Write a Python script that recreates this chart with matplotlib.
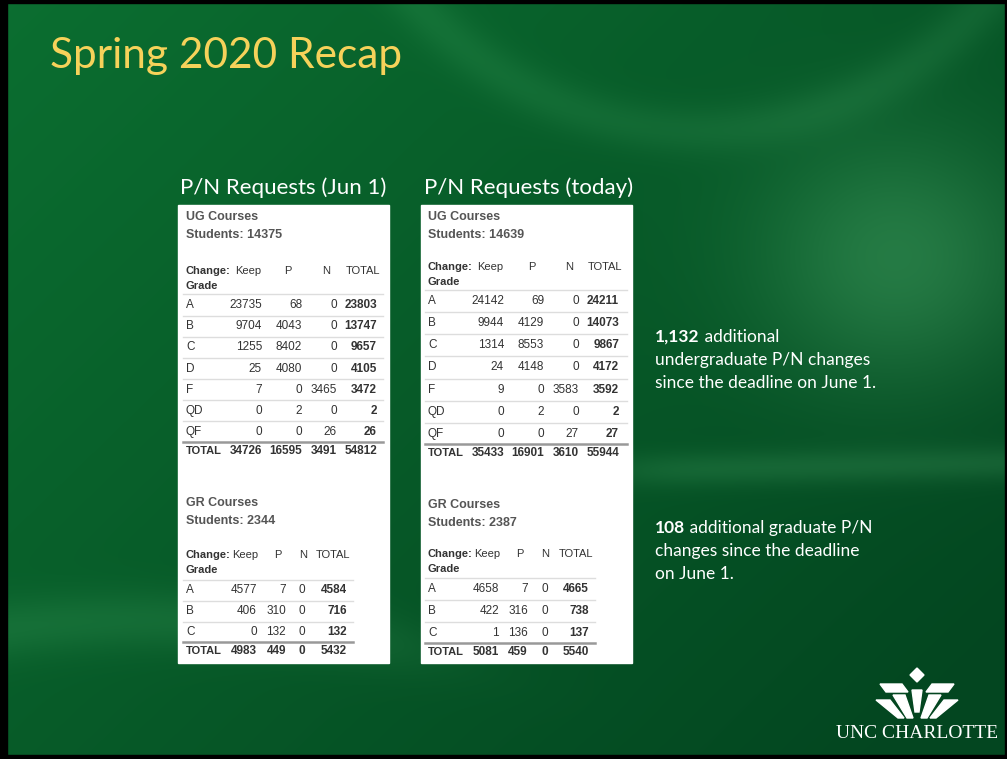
import numpy as np
import matplotlib.pyplot as plt
from matplotlib.patches import Rectangle, Polygon

# ---- data ----
ug_grades = ['A', 'B', 'C', 'D', 'F', 'QD', 'QF']
ug_jun1_keep = [23735, 9704, 1255, 25, 7, 0, 0]
ug_jun1_p = [68, 4043, 8402, 4080, 0, 2, 0]
ug_jun1_n = [0, 0, 0, 0, 3465, 0, 26]
ug_jun1_students = 14375

ug_today_keep = [24142, 9944, 1314, 24, 9, 0, 0]
ug_today_p = [69, 4129, 8553, 4148, 0, 2, 0]
ug_today_n = [0, 0, 0, 0, 3583, 0, 27]
ug_today_students = 14639

gr_grades = ['A', 'B', 'C']
gr_jun1_keep = [4577, 406, 0]
gr_jun1_p = [7, 310, 132]
gr_jun1_n = [0, 0, 0]
gr_jun1_students = 2344

gr_today_keep = [4658, 422, 1]
gr_today_p = [7, 316, 136]
gr_today_n = [0, 0, 0]
gr_today_students = 2387

ug_extra = '1,132'
gr_extra = '108'

W, H = 1007, 759
fig = plt.figure(figsize=(W / 100, H / 100), dpi=100)
ax = fig.add_axes([0, 0, 1, 1])
ax.set_xlim(0, W)
ax.set_ylim(H, 0)
ax.axis('off')

# background gradient
yy, xx = np.mgrid[0:H, 0:W].astype(float)
light = np.array([14, 124, 54]) / 255
dark = np.array([3, 70, 32]) / 255
t = np.clip(0.25 + 0.45 * xx / W + 0.35 * yy / H, 0, 1)
img = light[None, None, :] * (1 - t[..., None]) + dark[None, None, :] * t[..., None]
glow = np.exp(-((xx - 900) ** 2 / 2.0e4 + (yy - 260) ** 2 / 1.6e4)) * 0.35
band = np.exp(-((yy - (470 - 0.02 * (xx - 640))) ** 2) / 300) / (1 + np.exp(-(xx - 620) / 25)) * 0.18
arc = np.exp(-((np.sqrt((xx - 700) ** 2 + (yy + 250) ** 2) - 380) ** 2) / 600) * 0.12
swoosh = np.exp(-((yy - (620 + 0.0004 * (xx - 150) ** 2)) ** 2) / 900) / (1 + np.exp((xx - 420) / 40)) * 0.15
boost = glow + band + arc + swoosh
img = img + boost[..., None] * np.array([0.35, 0.45, 0.35])
ax.imshow(np.clip(img, 0, 1), extent=[0, W, H, 0], aspect='auto', zorder=0)
for r in [Rectangle((0, 0), 7, H), Rectangle((0, 0), W, 3), Rectangle((0, 755), W, 4), Rectangle((1005, 0), 2, H)]:
    r.set_color('black')
    ax.add_patch(r)

ax.text(50, 56, 'Spring 2020 Recap', fontsize=30.5, color='#f6d25a', family='Lato', va='center')
ax.text(180, 188, 'P/N Requests (Jun 1)', fontsize=16, color='white', family='Lato', va='center')
ax.text(424, 188, 'P/N Requests (today)', fontsize=16, color='white', family='Lato', va='center')

# white panels
ax.add_patch(Rectangle((178, 205), 211, 458, color='white', zorder=1))
ax.add_patch(Rectangle((421, 205), 211, 458, color='white', zorder=1))

tfont = ['Liberation Sans Narrow', 'Liberation Sans', 'DejaVu Sans']
txtc = '#333333'


def draw_table(title, students, grades, keep, p, n, lx, title_y, head_y, row_ys, total_y,
               rights, heads, line_x1):
    ax.text(lx, title_y, title, fontsize=9, fontweight='bold', color='#555555',
            family='Liberation Sans', va='center', zorder=3)
    ax.text(lx, title_y + 18, 'Students: %d' % students, fontsize=9, fontweight='bold',
            color='#555555', family='Liberation Sans', va='center', zorder=3)
    ax.text(lx, head_y, 'Change:', fontsize=8, fontweight='bold', color=txtc, family=tfont, va='center', zorder=3)
    ax.text(lx, head_y + 15, 'Grade', fontsize=8, fontweight='bold', color=txtc, family=tfont, va='center', zorder=3)
    for lab, hx in zip(['Keep', 'P', 'N', 'TOTAL'], heads):
        ax.text(hx, head_y, lab, fontsize=8, color=txtc, family=tfont, ha='center', va='center', zorder=3)
    tot = [k + pp + nn for k, pp, nn in zip(keep, p, n)]
    step = row_ys[1] - row_ys[0]
    for i, g in enumerate(grades):
        y = row_ys[i]
        ax.plot([lx - 3, line_x1], [y - step / 2, y - step / 2], color='#dddddd', lw=1, zorder=2)
        ax.text(lx, y, g, fontsize=8.5, color=txtc, family=tfont, va='center', zorder=3)
        vals = [keep[i], p[i], n[i], tot[i]]
        for j, (v, rx) in enumerate(zip(vals, rights)):
            ax.text(rx, y, str(v), fontsize=8.5, color=txtc, family=tfont, ha='right', va='center',
                    fontweight='bold' if j == 3 else 'normal', zorder=3)
    ax.plot([lx - 3, line_x1], [total_y - 9, total_y - 9], color='#999999', lw=1.8, zorder=2)
    ax.text(lx, total_y, 'TOTAL', fontsize=8, fontweight='bold', color=txtc, family=tfont, va='center', zorder=3)
    col_tot = [sum(keep), sum(p), sum(n), sum(tot)]
    for v, rx in zip(col_tot, rights):
        ax.text(rx, total_y, str(v), fontsize=8.5, fontweight='bold', color=txtc, family=tfont,
                ha='right', va='center', zorder=3)


draw_table('UG Courses', ug_jun1_students, ug_grades, ug_jun1_keep, ug_jun1_p, ug_jun1_n,
           186, 217, 271, list(np.linspace(305, 432, 7)), 451,
           [262, 302, 337, 377], [248, 288, 326, 363], 383)
draw_table('UG Courses', ug_today_students, ug_grades, ug_today_keep, ug_today_p, ug_today_n,
           428, 217, 267, list(np.linspace(301, 434, 7)), 453,
           [504, 544, 579, 619], [490, 532, 569, 605], 627)
draw_table('GR Courses', gr_jun1_students, gr_grades, gr_jun1_keep, gr_jun1_p, gr_jun1_n,
           186, 503, 555, [590, 611, 632], 651,
           [257, 286, 305, 347], [245, 278, 303, 333], 353)
draw_table('GR Courses', gr_today_students, gr_grades, gr_today_keep, gr_today_p, gr_today_n,
           428, 505, 554, [589, 611, 633], 652,
           [499, 528, 548, 589], [487, 520, 545, 576], 595)


# side notes
def note(x, y, bold, lines):
    b = ax.text(x, y, bold, fontsize=12.5, fontweight='bold', color='white', family='Lato', va='center')
    ax.annotate(' ' + lines[0], xy=(1, 0), xycoords=b, va='bottom', ha='left',
                fontsize=12.5, color='white', family='Lato')
    for k, ln in enumerate(lines[1:]):
        ax.text(x, y + 23 * (k + 1), ln, fontsize=12.5, color='white', family='Lato', va='center')


note(655, 337, ug_extra, ['additional', 'undergraduate P/N changes', 'since the deadline on June 1.'])
note(655, 528, gr_extra, ['additional graduate P/N', 'changes since the deadline', 'on June 1.'])

# logo
logo = [
    [(917, 668), (924, 675), (917, 682), (910, 675)],
    [(880, 684), (902, 684), (908, 692), (886, 692)],
    [(932, 684), (954, 684), (948, 692), (926, 692)],
    [(893, 695), (905, 695), (913, 718), (907, 718)],
    [(929, 695), (941, 695), (927, 718), (921, 718)],
    [(876, 700), (890, 700), (904, 718), (898, 718)],
    [(944, 700), (958, 700), (936, 718), (930, 718)],
    [(912, 690), (922, 690), (919, 712), (915, 712)],
]
for pts in logo:
    ax.add_patch(Polygon(pts, closed=True, color='white', zorder=3))
ax.text(917, 734, 'UNC CHARLOTTE', fontsize=14, color='white', family='Liberation Serif',
        ha='center', va='center')

plt.savefig('out.png', dpi=100)
